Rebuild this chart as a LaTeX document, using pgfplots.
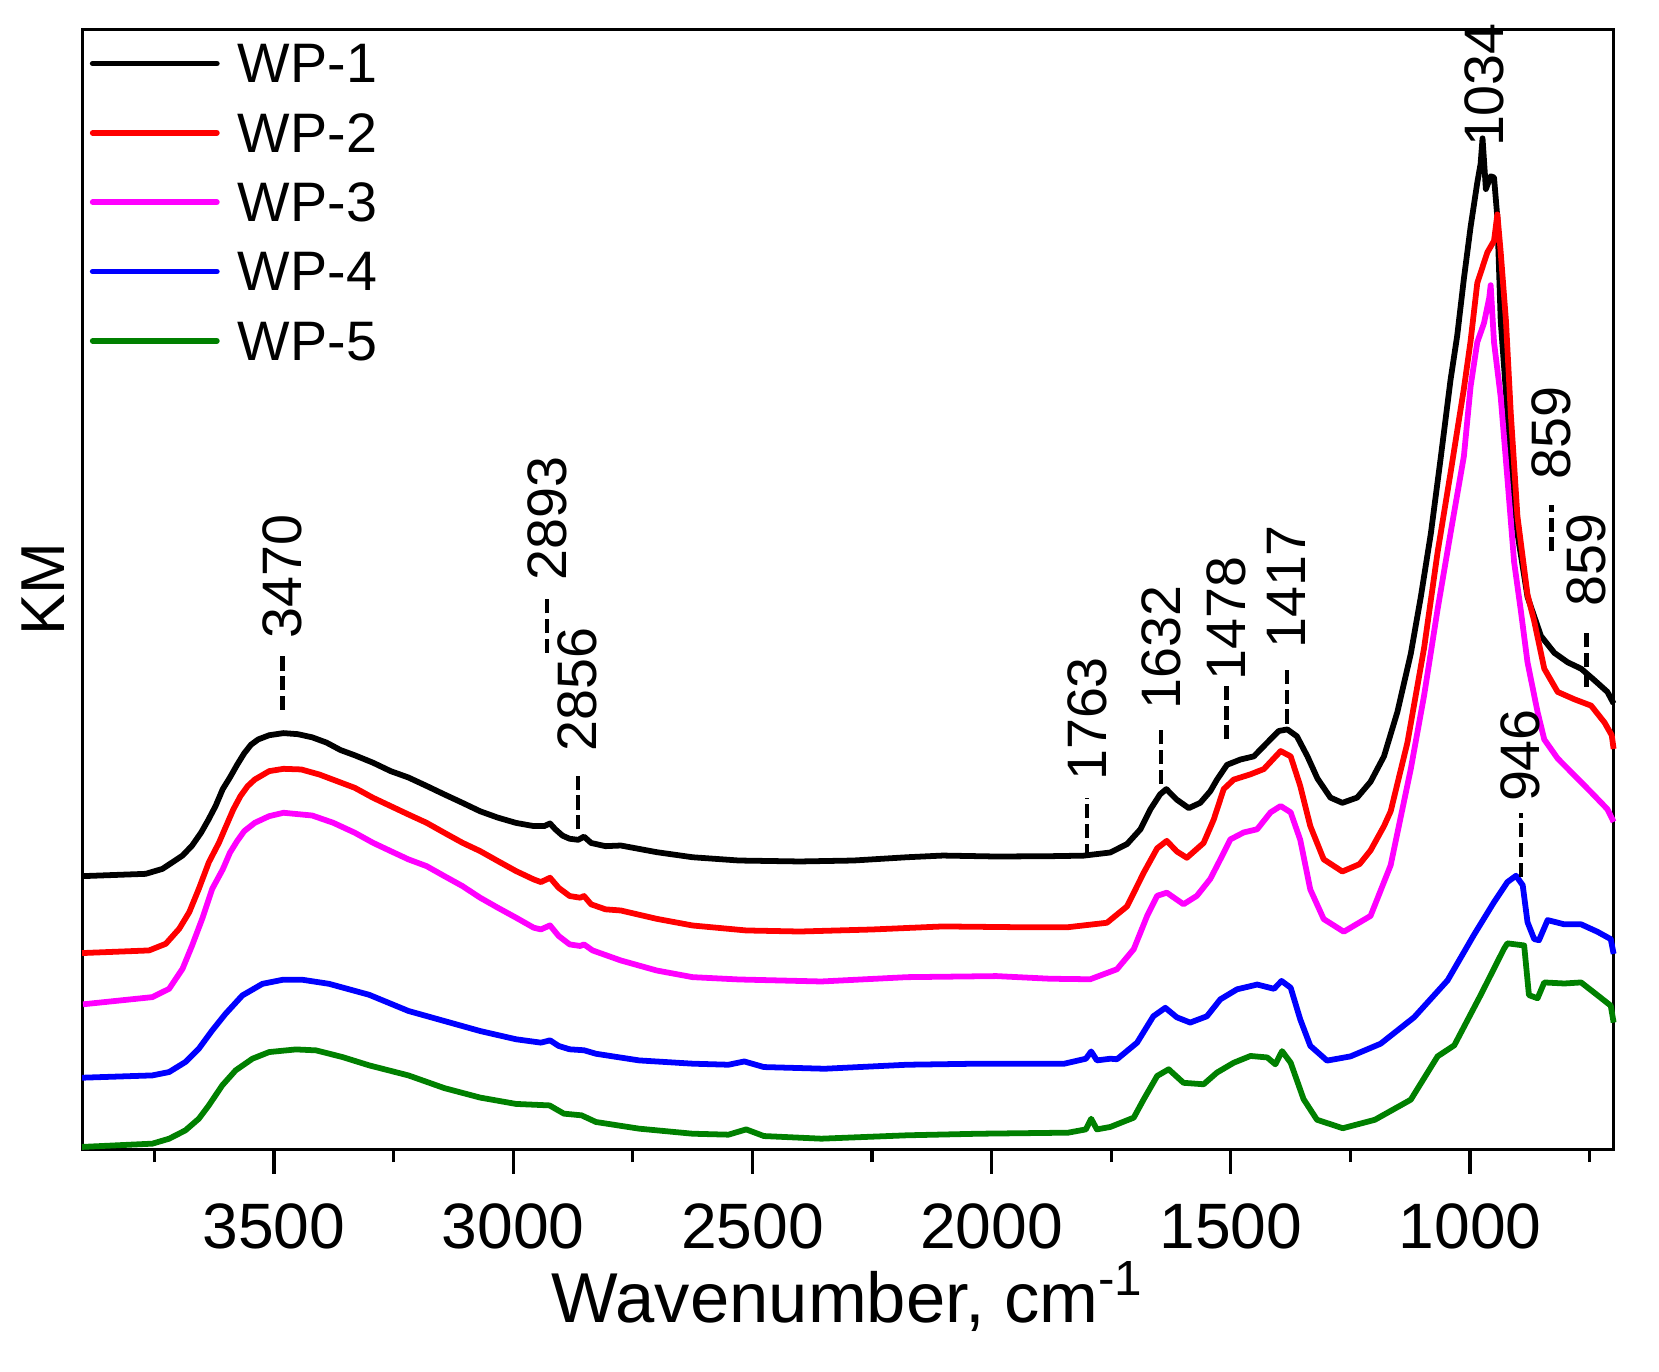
\documentclass[border=0pt]{standalone}
\usepackage{fontspec}
\setmainfont{Liberation Sans}
\usepackage{pgfplots}
\usepackage{pgfplotstable}
\pgfplotsset{compat=1.18}
\definecolor{wpgreen}{RGB}{0,128,0}
\definecolor{wpmagenta}{RGB}{255,0,255}
\definecolor{wpred}{RGB}{255,0,0}
\definecolor{wpblue}{RGB}{0,0,255}

% spectra (x: wavenumber, y: KM in arbitrary units)
\pgfplotstableread{
wn y
3901 258.6
3768 260.8
3733 265.5
3712 271.8
3691 278.1
3671 287.6
3652 300
3637 312
3622 325
3607 341
3592 352
3577 364
3562 375
3548 383
3533 388
3510 392
3480 394
3450 393
3420 390
3390 385
3361 378
3331 373
3293 366
3256 358
3219 352
3181 344
3144 336
3106 328
3069 320
3032 314
2994 309
2957 306
2935 306
2923 308.5
2912 303
2897 297
2882 294
2864 293
2852 296
2837 290
2807 287
2775 287.6
2700 281.3
2625 276.5
2528 273.4
2401 272.5
2289 273.4
2177 276.5
2102 278.1
1990 277.2
1878 277.5
1808 278
1752 281
1717 289
1689 303
1668 322
1648 336
1635 341
1613 331
1588 323
1564 328
1543 339
1529 350
1508 364
1480 369
1452 372
1424 385
1400 396
1382 397.5
1362 391
1340 372
1319 351
1292 333
1267 328
1236 333
1208 348
1180 372
1152 414
1124 469
1103 523
1082 583
1061 656
1041 728
1027 770
1013 824
999 873
985 915
978 933
974 957
967 909
957 921
950 920
943 882
936 784
929 741
915 654
901 583
880 523
852 486
824 470
796 461
768 455
740 444
713 433
700 422
}\wpone

\pgfplotstableread{
wn y
3901 185.8
3761 188.3
3726 194.6
3698 208.8
3677 224.5
3657 246.6
3636 271.8
3615 290.2
3600 306
3585 321.7
3570 334.4
3555 343.8
3540 350.1
3510 358
3480 360.2
3443 359.6
3405 354.8
3368 348.5
3331 342.2
3293 332.8
3256 324.9
3219 317
3181 309.1
3144 299.7
3106 290.2
3069 282.3
3032 272.9
2994 263.4
2957 255.5
2942 253
2923 257.1
2905 247.6
2882 239.8
2860 238.2
2852 239.8
2837 231.9
2807 227.2
2775 226.1
2700 218.2
2625 211.9
2513 207.2
2401 206.2
2251 208.1
2102 211
1952 210.3
1840 210.3
1759 214.5
1717 230
1682 262
1654 285
1634 292
1613 282
1592 276
1557 290
1536 312
1515 341
1494 350
1459 355
1431 360
1396 377
1375 372
1355 344
1334 306
1306 274.5
1267 263
1231 270
1208 283
1180 306
1166 320
1131 385
1096 475
1068 565
1041 640
1013 720
999 765
985 820
964 849
950 860
943 885
936 849
925 784
915 697
901 599
880 525
866 500
845 455
817 433
782 426
747 420
719 404
704 392
700 379
}\wptwo

\pgfplotstableread{
wn y
3899 137.3
3754 144.1
3719 152
3691 171
3671 193
3650 218.2
3629 246.6
3607 265
3592 280.8
3577 291.8
3562 301.3
3540 309.1
3510 315.4
3480 318.6
3420 316
3376 309.1
3331 299.7
3293 290.2
3256 282.3
3219 274.5
3181 268.1
3144 258.7
3106 249.2
3069 238.2
3032 228.7
2994 219.3
2957 209.8
2942 208.2
2923 212
2905 202
2882 194
2860 192.5
2852 194
2834 188.3
2775 178.8
2700 169.3
2625 163
2528 160.8
2356 158.9
2177 163
1990 164
1878 161.5
1794 161
1738 170.5
1703 189.5
1675 221
1654 240
1634 243
1599 232
1571 240
1543 256
1522 274.5
1501 293.4
1473 300
1445 303
1417 319
1396 325
1375 319
1355 293
1334 246
1306 218
1264 206
1208 221
1166 269
1124 360
1096 430
1068 511
1041 583
1013 656
999 722
985 764
971 782
960 806
957 818
950 764
936 712
922 635
908 556
894 510
880 461
859 414
845 388
817 370
782 354
747 338
713 322
700 310
}\wpthree

\pgfplotstableread{
wn y
3901 67.8
3754 70
3719 73.2
3685 82.7
3657 95.3
3629 112.6
3601 128.4
3566 145.7
3524 156.7
3482 160.5
3440 160.5
3385 156.7
3301 146.3
3219 131
3144 121.5
3069 112
2994 104.2
2942 101
2923 103.2
2905 97.9
2882 94.7
2852 93.8
2827 90.5
2737 84.2
2625 81.1
2550 80.1
2517 83.2
2476 77.9
2349 76.3
2177 80.1
2027 81.1
1848 81.1
1803 85.8
1792 92.7
1780 84.2
1752 85.8
1738 85.3
1696 101
1662 126
1637 134
1613 125
1585 120
1550 126
1522 142
1487 151.5
1445 156
1410 152
1394 159.4
1375 153
1355 123
1334 98
1299 84
1250 88
1187 100
1117 125
1047 160
992 203
950 234
922 253
904 259
890 250
880 215
866 199
856 198
838 217
803 213
768 213
734 206
706 199
700 185
}\wpfour

\pgfplotstableread{
wn y
3901 2.3
3754 5.4
3719 10.1
3685 18
3657 29
3636 41.7
3608 60.6
3580 74.8
3545 85.8
3510 92.1
3454 94.6
3412 93.7
3357 87.4
3301 79.5
3219 70
3144 58
3069 49
2994 43
2924 41.6
2894 33.8
2857 32.2
2827 25.9
2737 19.6
2625 14.8
2550 13.9
2513 18.9
2476 12.6
2356 10.1
2177 13.3
2027 14.8
1840 15.8
1803 18.9
1792 29
1780 18.9
1752 21.2
1703 30
1682 47.5
1654 69.5
1630 75.8
1599 63
1557 61.6
1529 72.7
1494 82
1459 88.4
1424 87
1407 80.5
1393 93
1375 82
1348 47.5
1320 28
1266 20
1199 28
1124 47
1068 88
1033 98.5
978 146
929 190
922 195
887 193
877 146
859 143
845 158
803 157
768 158
734 146
706 136
700 120
}\wpfive

\begin{document}
\begin{tikzpicture}
\begin{axis}[
  scale only axis,
  width=357.8pt, height=261.7pt,
  x dir=reverse,
  xmin=700, xmax=3900, ymin=0, ymax=1060,
  xtick={1000,1500,2000,2500,3000,3500},
  minor xtick={750,1250,1750,2250,2750,3250,3750},
  ytick=\empty,
  tick align=outside,
  xtick pos=bottom,
  major tick length=5.75pt,
  minor tick length=3pt,
  axis line style={line width=0.75pt},
  every tick/.style={black, line width=0.75pt},
  /pgf/number format/assume math mode=true,
  /pgf/number format/set thousands separator={},
  xticklabel style={font=\fontsize{15}{18}\selectfont, anchor=base, yshift=-17.45pt},
  xlabel={Wavenumber, cm\textsuperscript{-1}},
  xlabel style={font=\fontsize{16.5}{20}\selectfont, at={(axis description cs:0.5,-0.1548)}, anchor=base},
  ylabel={KM},
  ylabel style={font=\fontsize{14.5}{17}\selectfont, at={(axis description cs:-0.0259,0.5)}, anchor=center},
  clip=false,
  legend cell align=left,
  legend style={at={(axis description cs:0,1)}, anchor=north west, xshift=1.5pt, yshift=-2.25pt,
    draw=none, fill=none, font=\fontsize{13}{15}\selectfont,
    inner sep=0pt, row sep=5.2pt, column sep=4.25pt,
    nodes={inner sep=0pt, text height=10pt, text depth=1pt}},
  legend image code/.code={\draw[#1, line width=1.35pt, line cap=round] (0pt,0pt) -- (29pt,0pt);},
  every axis plot/.append style={line width=1.35pt, line join=round},
]
\addplot[black] table[x=wn, y=y] {\wpone};
\addlegendentry{WP-1}
\addplot[wpred] table[x=wn, y=y] {\wptwo};
\addlegendentry{WP-2}
\addplot[wpmagenta] table[x=wn, y=y] {\wpthree};
\addlegendentry{WP-3}
\addplot[wpblue] table[x=wn, y=y] {\wpfour};
\addlegendentry{WP-4}
\addplot[wpgreen] table[x=wn, y=y] {\wpfive};
\addlegendentry{WP-5}

% peak annotations
\tikzset{ann/.style={rotate=90, anchor=west, inner sep=0pt, font=\fontsize{13}{15}\selectfont},
         annline/.style={line width=1pt, dash pattern=on 3.3pt off 1.3pt}}
\draw[annline] (axis cs:3482,416) -- (axis cs:3482,468);
\node[ann] at (axis cs:3482,483) {3470};
\draw[annline] (axis cs:2929,470) -- (axis cs:2929,525);
\node[ann] at (axis cs:2929,538) {2893};
\draw[annline] (axis cs:2865,303) -- (axis cs:2865,358);
\node[ann] at (axis cs:2865,376) {2856};
\draw[annline] (axis cs:1801,276) -- (axis cs:1801,333);
\node[ann] at (axis cs:1801,348) {1763};
\draw[annline] (axis cs:1646,346) -- (axis cs:1646,400);
\node[ann] at (axis cs:1646,416) {1632};
\draw[annline] (axis cs:1509,388) -- (axis cs:1509,440);
\node[ann] at (axis cs:1509,443) {1478};
\draw[annline] (axis cs:1383,403) -- (axis cs:1383,458);
\node[ann] at (axis cs:1383,473) {1417};
\node[ann] at (axis cs:971,948) {1034};
\draw[annline] (axis cs:894,258) -- (axis cs:894,318);
\node[ann] at (axis cs:894,328) {946};
\draw[annline] (axis cs:830,566) -- (axis cs:830,610);
\node[ann] at (axis cs:830,633) {859};
\draw[annline] (axis cs:757,438) -- (axis cs:757,492);
\node[ann] at (axis cs:757,513) {859};

\coordinate (sw) at (axis description cs:0,0);
\coordinate (ne) at (axis description cs:1,1);
\end{axis}
\pgfresetboundingbox
\path ([shift={(-19.3pt,-51.9pt)}]sw) rectangle ([shift={(10.6pt,6.9pt)}]ne);
\end{tikzpicture}
\end{document}
